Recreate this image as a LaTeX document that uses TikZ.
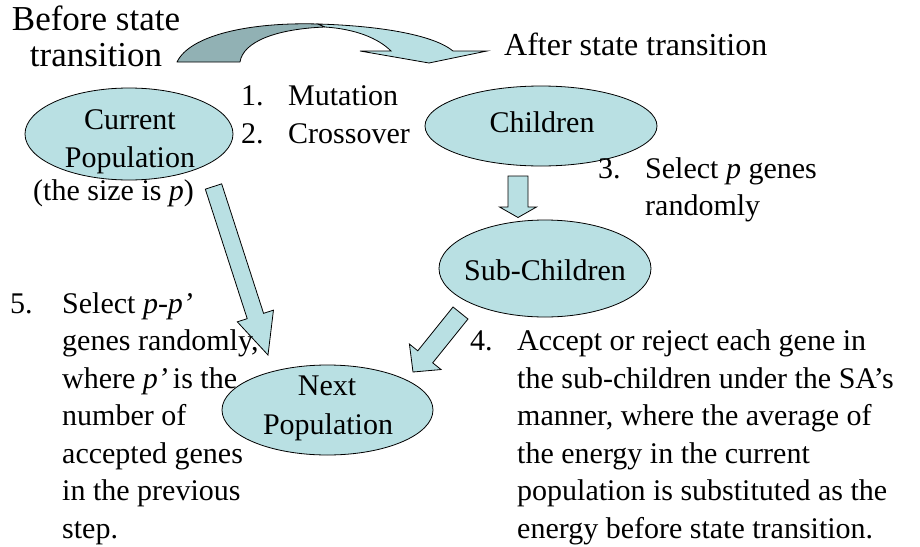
\documentclass[tikz,border=0pt]{standalone}
\usepackage{fontspec}
\setmainfont{Liberation Serif}
\usetikzlibrary{calc,shapes.geometric}
\definecolor{fillc}{RGB}{185,224,227}
\definecolor{darkc}{RGB}{145,177,180}
\newcommand\blockarrow[5]{%
  \draw[blk] ($(#1)!#3!90:(#2)$) -- ($($(#2)!#5!(#1)$)!#3!-90:(#1)$)
    -- ($($(#2)!#5!(#1)$)!#4!-90:(#1)$) -- (#2)
    -- ($($(#2)!#5!(#1)$)!#4!90:(#1)$) -- ($($(#2)!#5!(#1)$)!#3!90:(#1)$)
    -- ($(#1)!#3!-90:(#2)$) -- cycle;}
\begin{document}
\begin{tikzpicture}[x=1pt,y=-1pt,
  ell/.style={draw=black, line width=0.8pt, fill=fillc, ellipse, inner sep=0pt},
  txt/.style={font=\fontsize{30}{35.4}\selectfont, inner sep=0pt, anchor=base west},
  ctxt/.style={txt, anchor=base},
  blk/.style={draw=black, line width=0.8pt, fill=fillc, line join=miter}]
\useasboundingbox (0,0) rectangle (920,546);

% ellipses
\node[ell, minimum width=208pt, minimum height=92pt] (cur) at (129,134) {};
\node[ell, minimum width=232pt, minimum height=80pt] (chi) at (541,126) {};
\node[ell, minimum width=212pt, minimum height=97pt] (sub) at (545,268.5) {};
\node[ell, minimum width=211pt, minimum height=90pt] (nxt) at (327.5,410) {};

% curved arrow (top)
\draw[fill=darkc, line width=0.8pt, line join=round]
  (177,62) .. controls (190,35) and (250,22) .. (318,24)
  -- (325,27) .. controls (275,29) and (243,42) .. (240,62) -- cycle;
\draw[fill=fillc, line width=0.8pt, line join=miter]
  (318,24) .. controls (385,26) and (435,36) .. (453,51) -- (487,51)
  -- (429,63) -- (360,51) -- (391,51)
  .. controls (378,38) and (355,29) .. (325,27) -- cycle;

% block arrows
\coordinate (a1s) at (518,176);   \coordinate (a1e) at (518,217.5);
\coordinate (a2s) at (213.5,186.5); \coordinate (a2e) at (268,355);
\coordinate (a3s) at (460.5,313); \coordinate (a3e) at (413,372);
\blockarrow{a1s}{a1e}{10pt}{18.5pt}{10.5pt}
\blockarrow{a2s}{a2e}{8.6pt}{19pt}{41pt}
\blockarrow{a3s}{a3e}{9.6pt}{20.3pt}{19.5pt}

% labels
\node[ctxt, font=\fontsize{35}{40}\selectfont] (bef1) at (96,30) {Before state};
\node[ctxt, font=\fontsize{35}{40}\selectfont] (bef2) at (96,66) {transition};
\node[txt, font=\fontsize{32}{38}\selectfont] (aft) at (504,55) {After state transition};
\node[txt] (n1) at (241,105) {1.};
\node[txt] (mut) at (288,105) {Mutation};
\node[txt] (n2) at (241,143) {2.};
\node[txt] (cro) at (288,143) {Crossover};
\node[ctxt] (curT) at (130,129) {Current};
\node[ctxt] (curP) at (130,167) {Population};
\node[txt] (size) at (33,200) {(the size is \textit{p})};
\node[ctxt] (chiT) at (542,132) {Children};
\node[txt] (n3) at (598,178) {3.};
\node[txt] (sel3) at (645,178) {Select \textit{p} genes};
\node[txt] (rnd3) at (645,215) {randomly};
\node[ctxt] (subT) at (545,280) {Sub-Children};
\node[ctxt] (nxtT) at (327,395) {Next};
\node[ctxt] (nxtP) at (328,434) {Population};
\node[txt] (n5) at (10,313) {5.};
\foreach \t [count=\i] in {{Select \textit{p-p’}},{genes randomly,},{where \textit{p’}\,is the},{number of},{accepted genes},{in the previous},{step.}}
  \node[txt] (l5\i) at (62,{313+37.5*(\i-1)}) {\t};
\node[txt] (n4) at (470,350.5) {4.};
\foreach \t [count=\i] in {{Accept or reject each gene in},{the sub-children under the SA’s},{manner, where the average of},{the energy in the current},{population is substituted as the},{energy before state transition.}}
  \node[txt] (l4\i) at (517,{350.5+37.5*(\i-1)}) {\t};
\end{tikzpicture}
\end{document}
